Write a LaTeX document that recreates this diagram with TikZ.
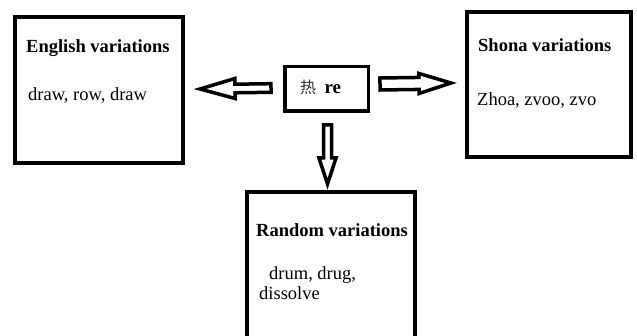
\documentclass[tikz,border=0pt]{standalone}
\usepackage{fontspec}
\setmainfont{Liberation Serif}
\newfontfamily\cjk{Noto Sans CJK SC}
\usetikzlibrary{positioning,calc}

\newcommand{\hollowarrow}[5]{%
  \path (#1) coordinate (ha) (#2) coordinate (hb) ($(hb)!#5!(ha)$) coordinate (hh);
  \draw[blockarrow] ($(ha)!#3!90:(hb)$) -- ($(hh)!#3!90:(hb)$) -- ($(hh)!#4!90:(hb)$) -- (hb)
    -- ($(hh)!#4!-90:(hb)$) -- ($(hh)!#3!-90:(hb)$) -- ($(ha)!#3!-90:(hb)$) -- cycle;}

\begin{document}
\begin{tikzpicture}[x=1pt,y=-1pt]
                    \tikzstyle{box}=[draw,rectangle,line width=4,inner sep=0]
                    \tikzstyle{note}=[draw=none,inner sep=0,anchor=base west,align=left,font=\fontsize{18.5}{20}\selectfont]
                    \tikzstyle{title}=[note,font=\fontsize{18.5}{20}\selectfont\bfseries]
                    \tikzstyle{blockarrow}=[line width=3.5,line join=miter,fill=white]
                    {
                        \useasboundingbox (0,0) rectangle (637,336);

                        \node[box,line width=3.5,minimum width=83.5,minimum height=44.5] (root) at (326.5,89) {};
                        \node[box,minimum width=168,minimum height=146] (english) at (99,90) {};
                        \node[box,minimum width=164,minimum height=145] (shona) at (549,84.5) {};
                        \node[box,minimum width=168,minimum height=168] (random) at (331,276) {};

                        \node[note,font=\fontsize{16}{16}\cjk,text=black!80] (rootc) at ([shift={(17,29)}]root.north west) {热};
                        \node[note,font=\fontsize{19}{20}\selectfont\bfseries] (rootl) at ([shift={(8,0)}]rootc.base east) {re};

                        \node[title] (englisht) at ([shift={(13,38)}]english.north west) {English variations};
                        \node[note] (englishl) at ([shift={(15,86)}]english.north west) {draw, row, draw};

                        \node[title] (shonat) at ([shift={(13,42)}]shona.north west) {Shona variations};
                        \node[note] (shonal) at ([shift={(12,96)}]shona.north west) {Zhoa, zvoo, zvo};

                        \node[title] (randomt) at ([shift={(11,47)}]random.north west) {Random variations};
                        \node[note] (randoml) at ([shift={(14,110)}]random.north west) {\hspace*{10pt}drum, drug,\\dissolve};

                        \coordinate (ls) at ([shift={(-12,-1)}]root.west);
                        \coordinate (le) at ([shift={(15,-1)}]english.east);
                        \coordinate (rs) at ([shift={(10,-5)}]root.east);
                        \coordinate (re) at ([shift={(-14,-1)}]shona.west |- rs);
                        \coordinate (ds) at ([shift={(1,12)}]root.south);
                        \coordinate (de) at ([shift={(0,-6)}]random.north -| ds);

                        \hollowarrow{ls}{le}{4.3pt}{10pt}{35pt}
                        \hollowarrow{rs}{re}{6pt}{10pt}{32pt}
                        \hollowarrow{ds}{de}{4pt}{8.5pt}{26pt}
                    }
\end{tikzpicture}
\end{document}
